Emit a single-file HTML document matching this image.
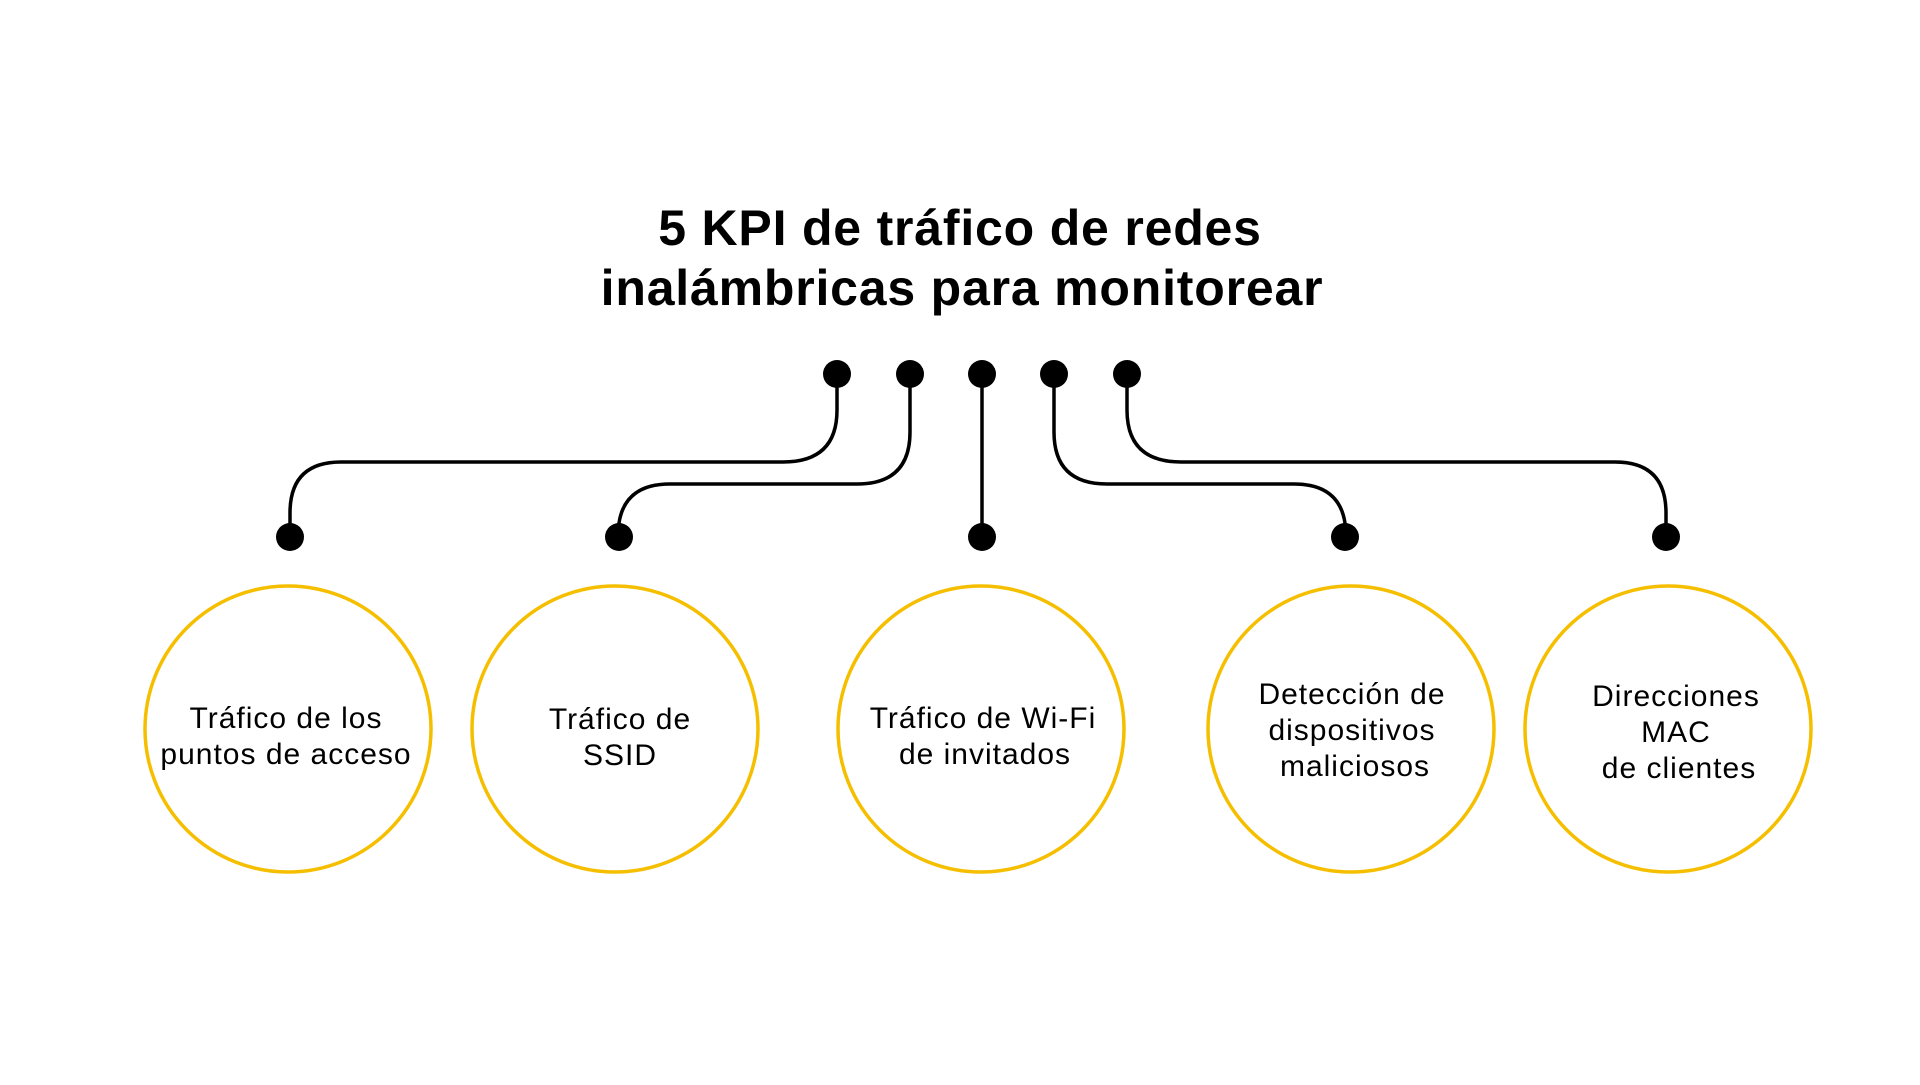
<!DOCTYPE html>
<html><head><meta charset="utf-8"><style>
html,body{margin:0;padding:0;background:#fff;}
body{width:1920px;height:1080px;overflow:hidden;font-family:"Liberation Sans",sans-serif;}
</style></head><body>
<svg width="1920" height="1080" viewBox="0 0 1920 1080" xmlns="http://www.w3.org/2000/svg">
<g font-family="Liberation Sans, sans-serif" fill="#000">
<text x="960" y="245" font-size="50" font-weight="bold" text-anchor="middle" letter-spacing="0.8">5 KPI de tráfico de redes</text>
<text x="962" y="305" font-size="50" font-weight="bold" text-anchor="middle" letter-spacing="0.8">inalámbricas para monitorear</text>
</g>
<g fill="none" stroke="#000" stroke-width="3.5">
<path d="M837 374 V410 Q837 462 783 462 H341 Q290 462 290 513 V537"/>
<path d="M910 374 V432 Q910 484 857 484 H670 Q625 484 619 523 V537"/>
<path d="M982 374 V537"/>
<path d="M1054 374 V432 Q1054 484 1107 484 H1294 Q1339 484 1345 523 V537"/>
<path d="M1127 374 V410 Q1127 462 1181 462 H1615 Q1666 462 1666 513 V537"/>
</g>
<g fill="#000">
<circle cx="837" cy="374" r="14"/><circle cx="910" cy="374" r="14"/><circle cx="982" cy="374" r="14"/><circle cx="1054" cy="374" r="14"/><circle cx="1127" cy="374" r="14"/>
<circle cx="290" cy="537" r="14"/><circle cx="619" cy="537" r="14"/><circle cx="982" cy="537" r="14"/><circle cx="1345" cy="537" r="14"/><circle cx="1666" cy="537" r="14"/>
</g>
<g fill="none" stroke="#f5bf00" stroke-width="3.5">
<circle cx="288" cy="729" r="143"/><circle cx="615" cy="729" r="143"/><circle cx="981" cy="729" r="143"/><circle cx="1351" cy="729" r="143"/><circle cx="1668" cy="729" r="143"/>
</g>
<g font-family="Liberation Sans, sans-serif" font-size="30" fill="#000" text-anchor="middle" letter-spacing="1">
<text x="286" y="728">Tráfico de los</text><text x="286" y="764">puntos de acceso</text>
<text x="620" y="729">Tráfico de</text><text x="620" y="765">SSID</text>
<text x="983" y="728">Tráfico de Wi-Fi</text><text x="985" y="764">de invitados</text>
<text x="1352" y="704">Detección de</text><text x="1352" y="740">dispositivos</text><text x="1355" y="776">maliciosos</text>
<text x="1676" y="706">Direcciones</text><text x="1676" y="742">MAC</text><text x="1679" y="778">de clientes</text>
</g>
</svg>
</body></html>
